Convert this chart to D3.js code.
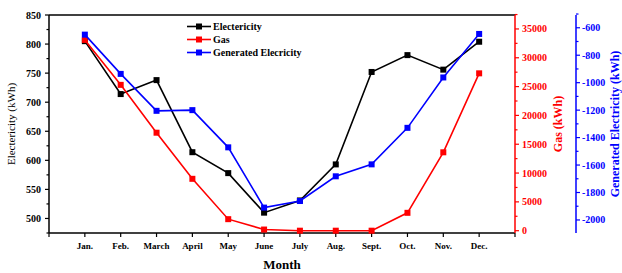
<!DOCTYPE html>
<html><head><meta charset="utf-8">
<script src="https://cdn.jsdelivr.net/npm/d3@7"></script>
<style>body{margin:0;background:#fff}svg{display:block}</style>
</head><body>
<script>
const months = ["Jan.","Feb.","March","April","May","June","July","Aug.","Sept.","Oct.","Nov.","Dec."];
const electricity = [805,714,738,614,578,510,531,593,752,781,756,804];
const gas = [33100,25300,17000,9000,2000,200,0,0,0,3100,13600,27300];
const generated = [-650,-936,-1205,-1200,-1471,-1910,-1862,-1682,-1595,-1329,-962,-645];
const leftTicks = [500,550,600,650,700,750,800,850];
const gasTicks = [0,5000,10000,15000,20000,25000,30000,35000];
const genTicks = [-2000,-1800,-1600,-1400,-1200,-1000,-800,-600];
const seriesNames = ["Electericity","Gas","Generated Elecricity"];
const colors = ["#000000","#ff0000","#0000ff"];

const W=622,H=273;
const L=49,R=515,T=15,B=233;
const svg=d3.select("body").append("svg").attr("width",W).attr("height",H);
const font="'Liberation Serif','Times New Roman',serif";

const x=d3.scalePoint().domain(months).range([L,R]).padding(1);
const yL=d3.scaleLinear().domain([475,850]).range([B,T]);
const yG=d3.scaleLinear().domain([-400,37420]).range([B,T]);
const yE=d3.scaleLinear().domain([-2095,-507]).range([B,T]);

// top border
svg.append("line").attr("x1",L).attr("x2",R).attr("y1",T).attr("y2",T).attr("stroke","#000").attr("stroke-width",1.5);

// x axis
const xa=svg.append("g").attr("transform",`translate(0,${B})`);
xa.append("line").attr("x1",L).attr("x2",R).attr("stroke","#000").attr("stroke-width",1.5);
const step=x.step();
for(let i=0;i<=13;i++){
  xa.append("line").attr("x1",L+i*step).attr("x2",L+i*step).attr("y1",0).attr("y2",4).attr("stroke","#000").attr("stroke-width",1.2);
}
xa.selectAll("text.m").data(months).enter().append("text")
  .attr("x",d=>x(d)).attr("y",16).attr("text-anchor","middle")
  .attr("font-family",font).attr("font-weight","bold").attr("font-size",9).text(d=>d);
svg.append("text").attr("x",(L+R)/2).attr("y",269).attr("text-anchor","middle")
  .attr("font-family",font).attr("font-weight","bold").attr("font-size",13).text("Month");

// left axis
const la=svg.append("g").attr("transform",`translate(${L},0)`);
la.append("line").attr("y1",T).attr("y2",B).attr("stroke","#000").attr("stroke-width",1.5);
d3.range(475,851,25).forEach(v=>{
  const major=v%50===0;
  la.append("line").attr("x1",0).attr("x2",major?-4:-2.5).attr("y1",yL(v)).attr("y2",yL(v)).attr("stroke","#000").attr("stroke-width",1.2);
});
la.selectAll("text").data(leftTicks).enter().append("text")
  .attr("x",-8).attr("y",d=>yL(d)).attr("dy","0.35em").attr("text-anchor","end")
  .attr("font-family",font).attr("font-weight","bold").attr("font-size",10).text(d=>d);
svg.append("text").attr("transform",`translate(15,${(T+B)/2}) rotate(-90)`).attr("text-anchor","middle")
  .attr("font-family",font).attr("font-size",11).text("Electericity (kWh)");

// gas axis
const ga=svg.append("g").attr("transform",`translate(${R},0)`);
ga.append("line").attr("y1",T).attr("y2",B).attr("stroke","#ff0000").attr("stroke-width",1.5);
d3.range(0,37501,2500).forEach(v=>{
  const major=v%5000===0;
  ga.append("line").attr("x1",0).attr("x2",major?4:2.5).attr("y1",yG(v)).attr("y2",yG(v)).attr("stroke","#ff0000").attr("stroke-width",1.2);
});
ga.selectAll("text").data(gasTicks).enter().append("text")
  .attr("x",7).attr("y",d=>yG(d)).attr("dy","0.35em")
  .attr("font-family",font).attr("font-weight","bold").attr("font-size",10).attr("fill","#ff0000").text(d=>d);
svg.append("text").attr("transform",`translate(562,${(T+B)/2}) rotate(-90)`).attr("text-anchor","middle")
  .attr("font-family",font).attr("font-weight","bold").attr("font-size",12).attr("fill","#ff0000").text("Gas (kWh)");

// generated axis
const ea=svg.append("g").attr("transform",`translate(576,0)`);
ea.append("line").attr("y1",T).attr("y2",B).attr("stroke","#0000ff").attr("stroke-width",1.5);
d3.range(-2000,-499,100).forEach(v=>{
  const major=v%200===0;
  ea.append("line").attr("x1",0).attr("x2",major?4:2.5).attr("y1",yE(v)).attr("y2",yE(v)).attr("stroke","#0000ff").attr("stroke-width",1.2);
});
ea.selectAll("text").data(genTicks).enter().append("text")
  .attr("x",6).attr("y",d=>yE(d)).attr("dy","0.35em")
  .attr("font-family",font).attr("font-weight","bold").attr("font-size",10).attr("fill","#0000ff").text(d=>d);
svg.append("text").attr("transform",`translate(619,${(T+B)/2}) rotate(-90)`).attr("text-anchor","middle")
  .attr("font-family",font).attr("font-weight","bold").attr("font-size",12).attr("fill","#0000ff").text("Generated Electricity (kWh)");

// series
function drawSeries(vals,scale,color){
  const line=d3.line().x((d,i)=>x(months[i])).y(d=>scale(d));
  svg.append("path").datum(vals).attr("d",line).attr("fill","none").attr("stroke",color).attr("stroke-width",1.6);
  svg.append("g").selectAll("rect").data(vals).enter().append("rect")
    .attr("x",(d,i)=>x(months[i])-3).attr("y",d=>scale(d)-3).attr("width",6).attr("height",6).attr("fill",color);
}
drawSeries(electricity,yL,colors[0]);
drawSeries(gas,yG,colors[1]);
drawSeries(generated,yE,colors[2]);

// legend
const lg=svg.append("g");
seriesNames.forEach((n,i)=>{
  const yy=26.5+i*13;
  lg.append("line").attr("x1",187).attr("x2",211).attr("y1",yy).attr("y2",yy).attr("stroke",colors[i]).attr("stroke-width",1.6);
  lg.append("rect").attr("x",196).attr("y",yy-3).attr("width",6).attr("height",6).attr("fill",colors[i]);
  lg.append("text").attr("x",213).attr("y",yy).attr("dy","0.35em").attr("font-family",font).attr("font-weight","bold").attr("font-size",10).text(n);
});
</script>
</body></html>
